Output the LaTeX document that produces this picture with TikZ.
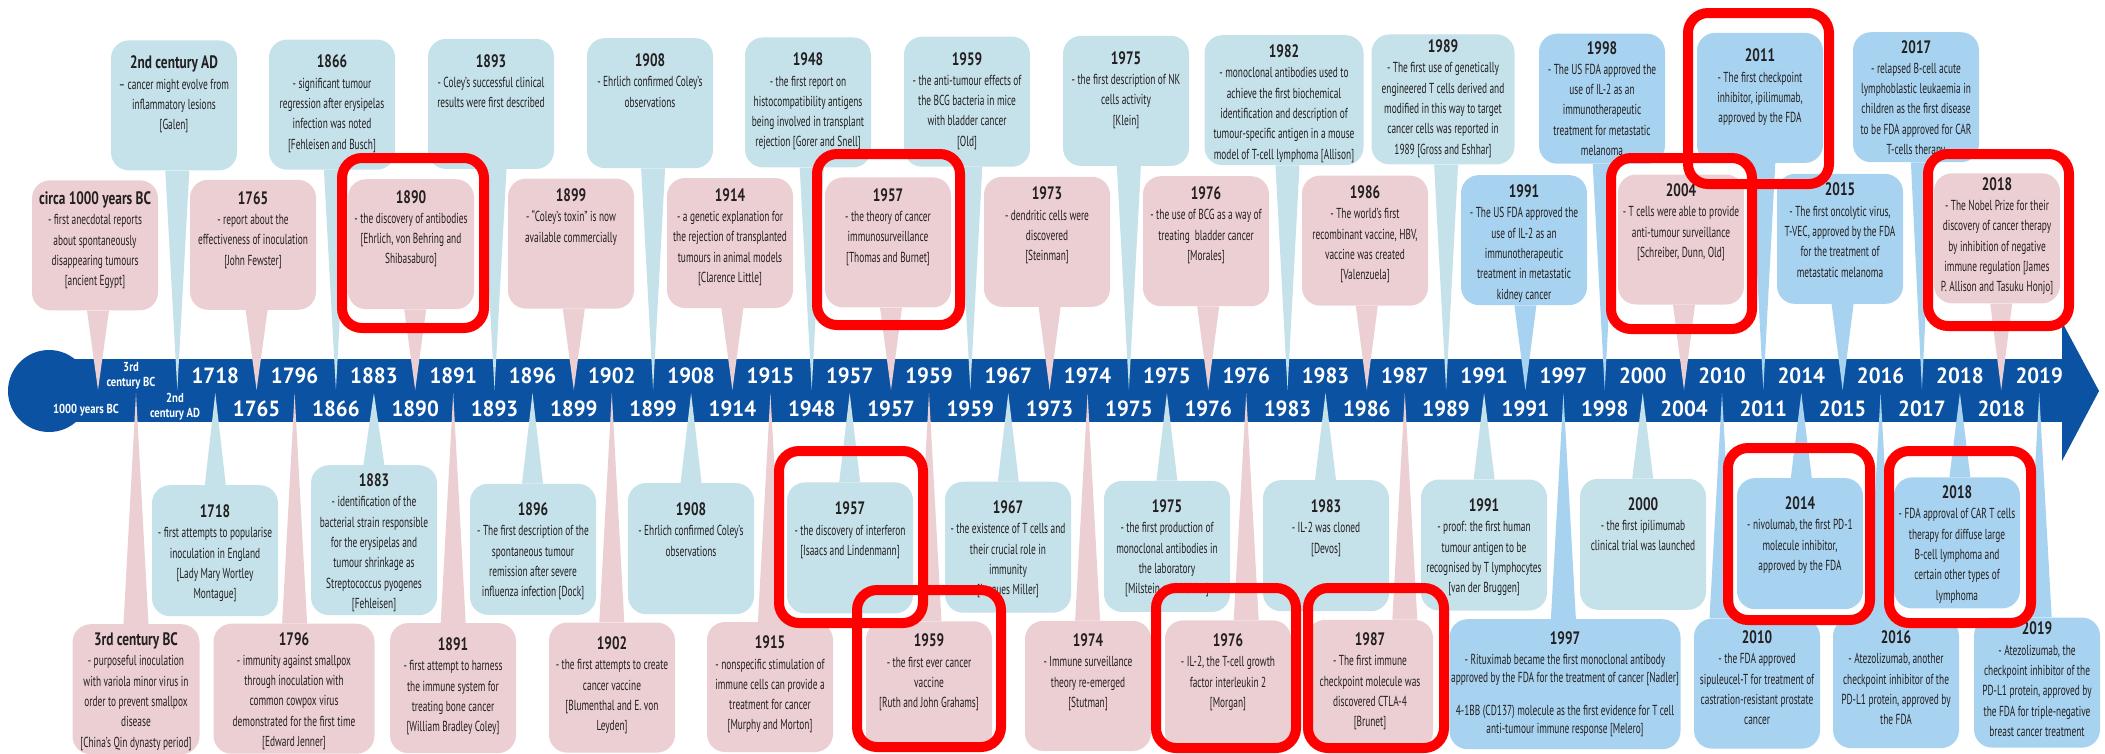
\documentclass[tikz,border=0pt]{standalone}
\usepackage{fontspec}
\setmainfont{PT Sans}
\newfontfamily\bdyf[FakeStretch=0.645]{PT Sans}
\newfontfamily\ttlf[FakeStretch=0.74]{PT Sans}
\newfontfamily\axf[FakeStretch=0.95]{PT Sans}
\newfontfamily\axsf[FakeStretch=0.82]{PT Sans}
\usetikzlibrary{calc}
\pgfdeclarelayer{bandl}\pgfdeclarelayer{ptrl}\pgfdeclarelayer{hll}
\pgfsetlayers{bandl,ptrl,main,hll}
\definecolor{pk}{RGB}{236,207,210}
\definecolor{lb}{RGB}{197,225,234}
\definecolor{sb}{RGB}{168,211,240}
\definecolor{bandc}{RGB}{12,82,162}
\definecolor{txt}{RGB}{35,31,32}
\definecolor{hl}{RGB}{255,0,0}
\newcommand\bdy{\bdyf\fontsize{14.5}{20.3}\selectfont}
\newcommand\ttl{\ttlf\bfseries\fontsize{18}{20.3}\selectfont}
\tikzset{
 evbox/.style={rounded corners=18pt, inner sep=0pt, draw=none},
 evtext/.style={inner sep=0pt, align=center, text=txt, font=\bdy},
 axlab/.style={text=white, inner sep=0pt, font={\axf\bfseries\fontsize{22}{22}\selectfont}},
 axsmall/.style={text=white, inner sep=0pt, align=center, font={\axsf\bfseries\fontsize{13}{14.5}\selectfont}},
 hlbox/.style={draw=hl, line width=10pt, rounded corners=20pt},
}
% name, cx, top, width, height, colour, text shift, title, body
\newcommand\evbox[9]{%
 \node[evbox, fill=#6, minimum width=#4, minimum height=#5, anchor=north] (#1) at (#2,#3) {};
 \node[evtext, anchor=north] (#1t) at ([yshift=-#7pt]#1.north) {{\ttl\rule{0pt}{14pt}#8}\\#9};
}
% box, tip, half base, colour
\newcommand\ptrU[4]{\begin{pgfonlayer}{ptrl}\fill[#4] ([xshift=-#3pt]#2 |- #1.south) -- (#2) -- ([xshift=#3pt]#2 |- #1.south) -- cycle;\end{pgfonlayer}}
\newcommand\ptrL[4]{\begin{pgfonlayer}{ptrl}\fill[#4] ([xshift=-#3pt]#2 |- #1.north) -- (#2) -- ([xshift=#3pt]#2 |- #1.north) -- cycle;\end{pgfonlayer}}
\begin{document}
\begin{tikzpicture}[x=1pt,y=-1pt]
\useasboundingbox (0,0) rectangle (2105,753);
% axis band
\begin{pgfonlayer}{bandl}
\fill[bandc] (49,391) circle[radius=41];
\fill[bandc] (49,359) rectangle (2063,422);
\fill[bandc] (2062,322) -- (2099,391) -- (2062,461) -- cycle;
\end{pgfonlayer}
\foreach \i in {0,...,24}{
 \coordinate (U\i) at ({98+79.3*\i},390);
 \coordinate (L\i) at ({136+79.3*\i},393);
}
% ---------- upper tier A ----------
\evbox{a1}{174}{40.2}{126}{130}{lb}{14.3}{2nd century AD}{– cancer might evolve from\\inflammatory lesions\\{}[Galen]}
\evbox{a3}{332}{39.4}{126}{130}{lb}{14.3}{1866}{- significant tumour\\regression after erysipelas\\infection was noted\\{}[Fehleisen and Busch]}
\evbox{a5}{491}{38.7}{126}{130}{lb}{14.3}{1893}{- Coley’s successful clinical\\results were first described}
\evbox{a7}{650}{37.9}{126}{130}{lb}{14.3}{1908}{- Ehrlich confirmed Coley’s\\observations}
\evbox{a9}{808}{37.2}{126}{130}{lb}{14.3}{1948}{- the first report on\\histocompatibility antigens\\being involved in transplant\\rejection [Gorer and Snell]}
\evbox{a11}{967}{36.5}{126}{130}{lb}{14.3}{1959}{- the anti-tumour effects of\\the BCG bacteria in mice\\with bladder cancer\\{}[Old]}
\evbox{a13}{1126}{35.7}{126}{130}{lb}{14.3}{1975}{- the first description of NK\\cells activity\\{}[Klein]}
\evbox{a15}{1284}{35}{159}{130}{lb}{8.3}{1982}{- monoclonal antibodies used to\\achieve the first biochemical\\identification and description of\\tumour-specific antigen in a mouse\\model of T-cell lymphoma [Allison]}
\evbox{a17}{1443}{34.2}{143}{130}{lb}{4.1}{1989}{- The first use of genetically\\engineered T cells derived and\\modified in this way to target\\cancer cells was reported in\\1989 [Gross and Eshhar]}
\evbox{a19}{1602}{33.5}{126}{130}{sb}{6.3}{1998}{- The US FDA approved the\\use of IL-2 as an\\immunotherapeutic\\treatment for metastatic\\melanoma}
\evbox{a21}{1760}{32.7}{126}{130}{sb}{14.9}{2011}{- The first checkpoint\\inhibitor, ipilimumab,\\approved by the FDA}
\evbox{a23}{1916}{32}{126}{130}{sb}{6.8}{2017}{- relapsed B-cell acute\\lymphoblastic leukaemia in\\children as the first disease\\to be FDA approved for CAR\\T-cells therapy}
\ptrU{a1}{U1}{12}{lb}\ptrU{a3}{U3}{12}{lb}\ptrU{a5}{U5}{12}{lb}\ptrU{a7}{U7}{12}{lb}
\ptrU{a9}{U9}{12}{lb}\ptrU{a11}{U11}{12}{lb}\ptrU{a13}{U13}{12}{lb}\ptrU{a15}{U15}{12}{lb}
\ptrU{a17}{U17}{12}{lb}\ptrU{a19}{U19}{12}{sb}\ptrU{a21}{U21}{12}{sb}\ptrU{a23}{U23}{11}{sb}
% ---------- upper tier B ----------
\evbox{b0}{95}{180.1}{126}{130}{pk}{10.3}{circa 1000 years BC}{- first anecdotal reports\\about spontaneously\\disappearing tumours\\{}[ancient Egypt]}
\evbox{b2}{253}{179.6}{126}{130}{pk}{10.3}{1765}{- report about the\\effectiveness of inoculation\\{}[John Fewster]}
\evbox{b4}{411}{179}{126}{130}{pk}{9.8}{1890}{- the discovery of antibodies\\{}[Ehrlich, von Behring and\\Shibasaburo]}
\evbox{b6}{571}{178.4}{126}{130}{pk}{9}{1899}{- “Coley’s toxin” is now\\available commercially}
\evbox{b8}{730}{177.8}{126}{130}{pk}{9.3}{1914}{- a genetic explanation for\\the rejection of transplanted\\tumours in animal models\\{}[Clarence Little]}
\evbox{b10}{888}{177.2}{126}{130}{pk}{9.7}{1957}{- the theory of cancer\\immunosurveillance\\{}[Thomas and Burnet]}
\evbox{b12}{1047}{176.6}{126}{130}{pk}{9}{1973}{- dendritic cells were\\discovered\\{}[Steinman]}
\evbox{b14}{1206}{176}{126}{130}{pk}{9.3}{1976}{- the use of BCG as a way of\\treating\ \ bladder cancer\\{}[Morales]}
\evbox{b16}{1365}{175.4}{126}{130}{pk}{9}{1986}{- The world’s first\\recombinant vaccine, HBV,\\vaccine was created\\{}[Valenzuela]}
\evbox{b18}{1524}{174.9}{126}{130}{sb}{8.4}{1991}{- The US FDA approved the\\use of IL-2 as an\\immunotherapeutic\\treatment in metastatic\\kidney cancer}
\evbox{b20}{1681}{174.3}{126}{130}{pk}{8}{2004}{- T cells were able to provide\\anti-tumour surveillance\\{}[Schreiber, Dunn, Old]}
\evbox{b22}{1840}{173.7}{126}{130}{sb}{8}{2015}{- The first oncolytic virus,\\T-VEC, approved by the FDA\\for the treatment of\\metastatic melanoma}
\evbox{b24}{1997}{173.1}{126}{130}{pk}{2.8}{2018}{- The Nobel Prize for their\\discovery of cancer therapy\\by inhibition of negative\\immune regulation [James\\P. Allison and Tasuku Honjo]}
\ptrU{b0}{U0}{11}{pk}\ptrU{b2}{U2}{11}{pk}\ptrU{b4}{U4}{11}{pk}\ptrU{b6}{U6}{11}{pk}
\ptrU{b8}{U8}{11}{pk}\ptrU{b10}{U10}{11}{pk}\ptrU{b12}{U12}{11}{pk}\ptrU{b14}{U14}{11}{pk}
\ptrU{b16}{U16}{11}{pk}\ptrU{b18}{U18}{11}{sb}\ptrU{b20}{U20}{11}{pk}\ptrU{b22}{U22}{11}{sb}
\ptrU{b24}{U24}{11}{pk}
% ---------- lower tier C ----------
\evbox{c1}{215}{485}{126}{131}{lb}{18.3}{1718}{- first attempts to popularise\\inoculation in England\\{}[Lady Mary Wortley\\Montague]}
\evbox{c3}{374}{465}{126}{150}{lb}{7.3}{1883}{- identification of the\\bacterial strain responsible\\for the erysipelas and\\tumour shrinkage as\\Streptococcus pyogenes\\{}[Fehleisen]}
\evbox{c5}{533}{483.6}{126}{131}{lb}{17.7}{1896}{- The first description of the\\spontaneous tumour\\remission after severe\\influenza infection [Dock]}
\evbox{c7}{691}{482.9}{126}{131}{lb}{18.3}{1908}{- Ehrlich confirmed Coley’s\\observations}
\evbox{c9}{850}{482.2}{126}{131}{lb}{18.3}{1957}{- the discovery of interferon\\{}[Isaacs and Lindenmann]}
\evbox{c11}{1008}{481.5}{126}{131}{lb}{17.8}{1967}{- the existence of T cells and\\their crucial role in\\immunity\\{}[Jacques Miller]}
\evbox{c13}{1167}{480.7}{126}{131}{lb}{17.6}{1975}{- the first production of\\monoclonal antibodies in\\the laboratory\\{}[Milstein and Köhler]}
\evbox{c15}{1326}{480}{126}{131}{lb}{18.3}{1983}{- IL-2 was cloned\\{}[Devos]}
\evbox{c17}{1484}{479.3}{126}{131}{lb}{18}{1991}{- proof: the first human\\tumour antigen to be\\recognised by T lymphocytes\\{}[van der Bruggen]}
\evbox{c19}{1643}{478.6}{126}{131}{lb}{17.5}{2000}{- the first ipilimumab\\clinical trial was launched}
\evbox{c21}{1800}{477.9}{126}{131}{sb}{17.3}{2014}{- nivolumab, the first PD-1\\molecule inhibitor,\\approved by the FDA}
\evbox{c23}{1957}{477.2}{126}{131}{sb}{7.1}{2018}{- FDA approval of CAR T cells\\therapy for diffuse large\\B-cell lymphoma and\\certain other types of\\lymphoma}
\ptrL{c1}{L1}{10.5}{lb}\ptrL{c3}{L3}{10.5}{lb}\ptrL{c5}{L5}{10.5}{lb}\ptrL{c7}{L7}{10.5}{lb}
\ptrL{c9}{L9}{10.5}{lb}\ptrL{c11}{L11}{10.5}{lb}\ptrL{c13}{L13}{10.5}{lb}\ptrL{c15}{L15}{10.5}{lb}
\ptrL{c17}{L17}{10.5}{lb}\ptrL{c19}{L19}{10.5}{lb}\ptrL{c21}{L21}{10.5}{sb}\ptrL{c23}{L23}{10.5}{sb}
% ---------- lower tier D ----------
\evbox{d0}{136}{624}{127}{130}{pk}{7.3}{3rd century BC}{- purposeful inoculation\\with variola minor virus in\\order to prevent smallpox\\disease\\{}[China’s Qin dynasty period]}
\evbox{d2}{294}{623.5}{161}{130}{pk}{7.3}{1796}{- immunity against smallpox\\through inoculation with\\common cowpox virus\\demonstrated for the first time\\{}[Edward Jenner]}
\evbox{d4}{453}{622.9}{126}{130}{pk}{13.3}{1891}{- first attempt to harness\\the immune system for\\treating bone cancer\\{}[William Bradley Coley]}
\evbox{d6}{612}{622.4}{126}{130}{pk}{13}{1902}{- the first attempts to create\\cancer vaccine\\{}[Blumenthal and E. von\\Leyden]}
\evbox{d8}{770}{621.8}{126}{130}{pk}{12.7}{1915}{- nonspecific stimulation of\\immune cells can provide a\\treatment for cancer\\{}[Murphy and Morton]}
\evbox{d10}{929}{621.2}{126}{130}{pk}{11.3}{1959}{- the first ever cancer\\vaccine\\{}[Ruth and John Grahams]}
\evbox{d12}{1088}{620.7}{126}{130}{pk}{11.6}{1974}{- Immune surveillance\\theory re-emerged\\{}[Stutman]}
\evbox{d14}{1228}{620.2}{126}{130}{pk}{12}{1976}{- IL-2, the T-cell growth\\factor interleukin 2\\{}[Morgan]}
\evbox{d16}{1370}{619.7}{126}{130}{pk}{11.5}{1987}{- The first immune\\checkpoint molecule was\\discovered CTLA-4\\{}[Brunet]}
\evbox{d18}{1565}{619}{231}{130}{sb}{11.3}{1997}{- Rituximab became the first monoclonal antibody\\[-2.3pt]approved by the FDA for the treatment of cancer [Nadler]\\[12pt]4-1BB (CD137) molecule as the first evidence for T cell\\[-2.3pt]anti-tumour immune response [Melero]}
\evbox{d20}{1757}{618.4}{126}{130}{sb}{11}{2010}{- the FDA approved\\sipuleucel-T for treatment of\\castration-resistant prostate\\cancer}
\evbox{d22}{1896}{617.9}{126}{130}{sb}{11.3}{2016}{- Atezolizumab, another\\checkpoint inhibitor of the\\PD-L1 protein, approved by\\the FDA}
\evbox{d24}{2037}{617.4}{126}{130}{sb}{3.3}{2019}{- Atezolizumab, the\\checkpoint inhibitor of the\\PD-L1 protein, approved by\\the FDA for triple-negative\\breast cancer treatment}
\ptrL{d0}{L0}{12.5}{pk}\ptrL{d2}{L2}{12.5}{pk}\ptrL{d4}{L4}{12.5}{pk}\ptrL{d6}{L6}{12.5}{pk}
\ptrL{d8}{L8}{12.5}{pk}\ptrL{d10}{L10}{12.5}{pk}\ptrL{d12}{L12}{12.5}{pk}\ptrL{d14}{L14}{12.5}{pk}
\ptrL{d16}{L16}{12.5}{pk}\ptrL{d18}{L18}{12.5}{sb}\ptrL{d20}{L20}{12.5}{sb}\ptrL{d22}{L22}{12.5}{sb}
\ptrL{d24}{L24}{12.5}{sb}
% ---------- axis labels ----------
\node[axsmall] (au0) at (131,376) {3rd\\century BC};
\foreach \t [count=\j from 1] in {1718,1796,1883,1891,1896,1902,1908,1915,1957,1959,1967,1974,1975,1976,1983,1987,1991,1997,2000,2010,2014,2016,2018,2019}
 \node[axlab] (au\j) at ({136+79.3*\j},376) {\t};
\node[axsmall] (al0) at (86,410) {1000 years BC};
\node[axsmall] (al1) at (175,406.5) {2nd\\century AD};
\foreach \t [count=\i from 2] in {1765,1866,1890,1893,1899,1899,1914,1948,1957,1959,1973,1975,1976,1983,1986,1989,1991,1998,2004,2011,2015,2017,2018}
 \node[axlab] (al\i) at ({98+79.3*\i},409) {\t};
% ---------- red highlights ----------
\begin{pgfonlayer}{hll}
\draw[hlbox] (342,158) rectangle (484,328);
\draw[hlbox] (817,154) rectangle (960,325);
\draw[hlbox] (1688,13) rectangle (1829,184);
\draw[hlbox] (1611,158) rectangle (1752,329);
\draw[hlbox] (1928,154) rectangle (2069,326);
\draw[hlbox] (779,451) rectangle (923,623);
\draw[hlbox] (857,590) rectangle (1001,747);
\draw[hlbox] (1156,588) rectangle (1296,748);
\draw[hlbox] (1308,588) rectangle (1444,748);
\draw[hlbox] (1728,448) rectangle (1870,620);
\draw[hlbox] (1889,451) rectangle (2031,623);
\end{pgfonlayer}
\end{tikzpicture}
\end{document}
